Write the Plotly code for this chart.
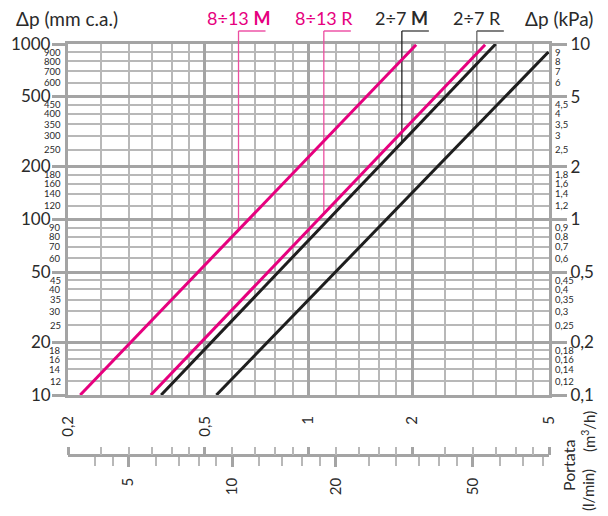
import math
import plotly.graph_objects as go

# ---------------- data ----------------
# flow rate (m3/h) and pressure drop (mm c.a.) at both ends of each curve
flow_8_13_M = [0.217, 2.055]
dp_8_13_M = [10, 990]
flow_8_13_R = [0.348, 3.26]
dp_8_13_R = [10, 990]
flow_2_7_M = [0.373, 3.5]
dp_2_7_M = [10, 1000]
flow_2_7_R = [0.54, 4.98]
dp_2_7_R = [10, 900]

series_names = ["8÷13 M", "8÷13 R", "2÷7 M", "2÷7 R"]
series_colors = ["#e6007e", "#e6007e", "#1e1e1e", "#1e1e1e"]
leader_flow = [0.626, 1.108, 1.868, 3.085]   # m3/h where each callout meets its curve

dp_major_mm = [10, 20, 50, 100, 200, 500, 1000]
dp_minor_mm = [12, 14, 16, 18, 25, 30, 35, 40, 45, 60, 70, 80, 90,
               120, 140, 160, 180, 250, 300, 350, 400, 450, 600, 700, 800, 900]
kpa_major = [0.1, 0.2, 0.5, 1, 2, 5, 10]
kpa_major_text = ["0,1", "0,2", "0,5", "1", "2", "5", "10"]
kpa_minor = [0.12, 0.14, 0.16, 0.18, 0.25, 0.3, 0.35, 0.4, 0.45, 0.6, 0.7, 0.8, 0.9,
             1.2, 1.4, 1.6, 1.8, 2.5, 3, 3.5, 4, 4.5, 6, 7, 8, 9]
kpa_minor_text = ["0,12", "0,14", "0,16", "0,18", "0,25", "0,3", "0,35", "0,4", "0,45",
                  "0,6", "0,7", "0,8", "0,9", "1,2", "1,4", "1,6", "1,8", "2,5", "3",
                  "3,5", "4", "4,5", "6", "7", "8", "9"]
flow_major_m3h = [0.2, 0.5, 1, 2, 5]
flow_major_text = ["0,2", "0,5", "1", "2", "5"]
flow_minor_m3h = [0.25, 0.3, 0.35, 0.4, 0.45, 0.6, 0.7, 0.8, 0.9,
                  1.2, 1.4, 1.6, 1.8, 2.5, 3, 3.5, 4, 4.5]
flow_lmin_major = [5, 10, 20, 50]
flow_lmin_minor = [4, 4.5, 6, 7, 8, 9, 12, 14, 16, 18, 25, 30, 35, 40, 45, 60, 70, 80]

# ---------------- layout helpers ----------------
# the page body has an 8 px margin, so the figure is laid out 8 px smaller
OFF = 8
W, H = 608 - OFF, 516 - OFF
ML, MR, MT, MB = 68 - OFF, 59, 44 - OFF, 20
PW, PH = W - ML - MR, H - MT - MB
PLOT_BOTTOM = 395
LMIN_AXIS_Y = 455


def px(x):
    """reference-window x pixel -> paper coordinate"""
    return (x - OFF - ML) / PW


def py(y):
    """reference-window y pixel -> paper coordinate"""
    return (H - MB - (y - OFF)) / PH


FONT = "Lato, 'DejaVu Sans', sans-serif"
TXT = "#2a2a2a"
GRID_MAJ = "#a4a4a4"
GRID_MIN = "#b8b8b8"
PINK = "#e6007e"


def dp_on_curve(flows, dps, q):
    t = (math.log10(q) - math.log10(flows[0])) / (math.log10(flows[1]) - math.log10(flows[0]))
    return 10 ** (math.log10(dps[0]) + t * (math.log10(dps[1]) - math.log10(dps[0])))


fig = go.Figure()
all_flows = [flow_8_13_M, flow_8_13_R, flow_2_7_M, flow_2_7_R]
all_dps = [dp_8_13_M, dp_8_13_R, dp_2_7_M, dp_2_7_R]
for name, fl, dp, col in zip(series_names, all_flows, all_dps, series_colors):
    fig.add_trace(go.Scatter(x=fl, y=dp, mode="lines", name=name,
                             line=dict(color=col, width=3), hoverinfo="skip"))

# invisible helpers so the secondary scales exist
fig.add_trace(go.Scatter(x=[1], y=[1], xaxis="x", yaxis="y2", mode="markers",
                         marker=dict(opacity=0), hoverinfo="skip", showlegend=False))
fig.add_trace(go.Scatter(x=[10], y=[100], xaxis="x2", yaxis="y", mode="markers",
                         marker=dict(opacity=0), hoverinfo="skip", showlegend=False))
fig.add_trace(go.Scatter(x=[1], y=[100], xaxis="x3", yaxis="y", mode="markers",
                         marker=dict(opacity=0), hoverinfo="skip", showlegend=False))

xr = [math.log10(0.2), math.log10(5)]
lmin_per_m3h = 1000 / 60
dom_y = [py(PLOT_BOTTOM), 1]

fig.update_layout(
    width=W, height=H,
    margin=dict(l=ML, r=MR, t=MT, b=MB, autoexpand=False),
    paper_bgcolor="white", plot_bgcolor="white",
    showlegend=False,
    font=dict(family=FONT, color=TXT),
    xaxis=dict(type="log", range=xr, tickvals=flow_major_m3h, ticktext=flow_major_text,
               tickangle=-90, tickfont=dict(size=15, color=TXT), ticks="",
               ticklabelstandoff=12, automargin=False,
               showgrid=True, gridcolor=GRID_MAJ, gridwidth=3,
               minor=dict(tickvals=flow_minor_m3h, showgrid=True, gridcolor=GRID_MIN,
                          gridwidth=2, ticks=""),
               showline=True, linecolor=GRID_MAJ, linewidth=3, mirror=True,
               zeroline=False, anchor="y"),
    yaxis=dict(type="log", range=[1, 3], domain=dom_y, tickvals=dp_major_mm,
               showticklabels=False, ticks="outside", ticklen=13, tickwidth=3,
               tickcolor=GRID_MAJ, automargin=False,
               showgrid=True, gridcolor=GRID_MAJ, gridwidth=3,
               minor=dict(tickvals=dp_minor_mm, showgrid=True, gridcolor=GRID_MIN,
                          gridwidth=2, ticks=""),
               showline=True, linecolor=GRID_MAJ, linewidth=3, mirror=True,
               zeroline=False),
    yaxis2=dict(type="log", range=[-1, 1], overlaying="y", side="right", anchor="x",
                tickvals=kpa_major, ticktext=kpa_major_text,
                tickfont=dict(size=17, color=TXT), automargin=False,
                ticks="outside", ticklen=17, tickwidth=3, tickcolor=GRID_MAJ,
                showgrid=False, showline=False, zeroline=False),
    xaxis2=dict(type="log",
                range=[math.log10(0.2 * lmin_per_m3h), math.log10(5 * lmin_per_m3h)],
                overlaying="x", anchor="free", position=py(LMIN_AXIS_Y), side="bottom",
                tickvals=flow_lmin_major, ticktext=[str(v) for v in flow_lmin_major],
                tickangle=-90, tickfont=dict(size=15, color=TXT), automargin=False,
                ticks="outside", ticklen=10, tickwidth=2.5, tickcolor=GRID_MAJ,
                ticklabelstandoff=5,
                minor=dict(tickvals=flow_lmin_minor, ticks="outside", ticklen=9,
                           tickwidth=1.5, tickcolor=GRID_MIN, showgrid=False),
                showgrid=False, showline=True, linecolor=GRID_MAJ, linewidth=2.5,
                zeroline=False),
    xaxis3=dict(type="log", range=xr, overlaying="x", anchor="free",
                position=py(LMIN_AXIS_Y), side="top", automargin=False,
                tickvals=flow_major_m3h, showticklabels=False,
                ticks="outside", ticklen=8, tickwidth=2.5, tickcolor=GRID_MAJ,
                minor=dict(tickvals=flow_minor_m3h, ticks="outside", ticklen=8,
                           tickwidth=1.5, tickcolor=GRID_MIN, showgrid=False),
                showgrid=False, showline=False, zeroline=False),
)

ann = []
# left axis labels
for v in dp_major_mm:
    ann.append(dict(x=px(53), xref="paper", xanchor="right", y=math.log10(v), yref="y",
                    yanchor="middle", text=str(v), showarrow=False,
                    font=dict(size=17, color=TXT), yshift=1))
for v in dp_minor_mm:
    ann.append(dict(x=px(63), xref="paper", xanchor="right", y=math.log10(v), yref="y",
                    yanchor="middle", text=str(v), showarrow=False,
                    font=dict(size=9.5, color=TXT)))
# right axis minor labels
for v, t in zip(kpa_minor, kpa_minor_text):
    ann.append(dict(x=px(553), xref="paper", xanchor="left", y=math.log10(v), yref="y2",
                    yanchor="middle", text=t, showarrow=False,
                    font=dict(size=9.5, color=TXT)))
# titles
ann.append(dict(x=px(14), xref="paper", xanchor="left", y=py(18), yref="paper",
                yanchor="middle", text="Δp (mm c.a.)", showarrow=False,
                font=dict(size=19, color=TXT)))
ann.append(dict(x=px(595), xref="paper", xanchor="right", y=py(18), yref="paper",
                yanchor="middle", text="Δp (kPa)", showarrow=False,
                font=dict(size=19, color=TXT)))
ann.append(dict(x=px(568), xref="paper", xanchor="center", y=py(466), yref="paper",
                yanchor="middle", text="Portata", textangle=-90, showarrow=False,
                font=dict(size=16, color=TXT)))
ann.append(dict(x=px(588), xref="paper", xanchor="center", y=py(432), yref="paper",
                yanchor="middle", text="(m<sup>3</sup>/h)", textangle=-90, showarrow=False,
                font=dict(size=15, color=TXT)))
ann.append(dict(x=px(588), xref="paper", xanchor="center", y=py(490), yref="paper",
                yanchor="middle", text="(l/min)", textangle=-90, showarrow=False,
                font=dict(size=15, color=TXT)))

shapes = []
for name, fl, dp, col, q in zip(series_names, all_flows, all_dps, series_colors, leader_flow):
    is_pink = col == PINK
    text_col = PINK if is_pink else TXT
    under_col = "#f27fbd" if is_pink else "#808080"
    lead_col = "#ec4fa0" if is_pink else ("#222222" if name.endswith("M") else "#666666")
    label = name[:-1] + ("<b>M</b>" if name.endswith("M") else name[-1])
    ann.append(dict(x=math.log10(q), xref="x", xanchor="center", y=py(18), yref="paper",
                    yanchor="middle", text=label, showarrow=False,
                    font=dict(size=18, color=text_col)))
    shapes.append(dict(type="line", xref="x", xsizemode="pixel", xanchor=q, x0=-27, x1=27,
                       yref="paper", y0=py(31), y1=py(31),
                       line=dict(color=under_col, width=2)))
    shapes.append(dict(type="line", xref="x", x0=q, x1=q, yref="paper", y0=1, y1=py(31),
                       line=dict(color=lead_col, width=1.3)))
    shapes.append(dict(type="line", xref="x", x0=q, x1=q, yref="y",
                       y0=dp_on_curve(fl, dp, q), y1=1000, layer="between",
                       line=dict(color=lead_col, width=1.3)))

fig.update_layout(annotations=ann, shapes=shapes)
fig.write_html("out.html")
